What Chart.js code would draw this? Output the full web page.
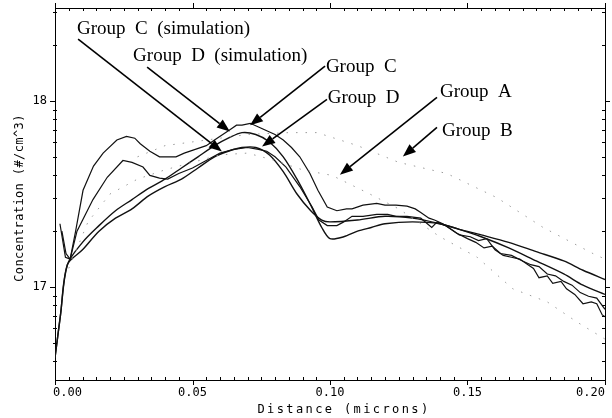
<!DOCTYPE html>
<html>
<head>
<meta charset="utf-8">
<script src="https://cdn.jsdelivr.net/npm/chart.js@4/dist/chart.umd.min.js"></script>
<style>
  html, body { margin: 0; padding: 0; background: #fff; }
  canvas { display: block; }
</style>
</head>
<body>
<canvas id="chart" width="612" height="418"></canvas>
<script>
// measured profiles (x in microns, y = log10 concentration)
const cMeasX = [0.0018,0.0038,0.0055,0.0075,0.0102,0.014,0.0175,0.0225,0.026,0.029,0.031,0.0345,0.038,0.041,0.044,0.047,0.051,0.055,0.058,0.061,0.064,0.066,0.068,0.071,0.074,0.077,0.080,0.083,0.086,0.089,0.0927,0.0956,0.099,0.1025,0.106,0.108,0.112,0.117,0.120,0.124,0.128,0.131,0.133,0.136,0.138,0.141,0.144,0.147,0.151,0.154,0.157,0.160,0.163,0.166,0.169,0.172,0.174,0.176,0.179,0.181,0.184,0.186,0.189,0.192,0.195,0.197,0.199,0.2];
const cMeasY = [17.34,17.16,17.15,17.30,17.52,17.65,17.72,17.79,17.81,17.80,17.77,17.73,17.70,17.70,17.70,17.72,17.74,17.76,17.79,17.82,17.85,17.87,17.87,17.88,17.86,17.84,17.82,17.79,17.75,17.70,17.61,17.52,17.43,17.41,17.42,17.42,17.44,17.45,17.44,17.44,17.435,17.42,17.40,17.37,17.36,17.34,17.31,17.28,17.27,17.25,17.26,17.20,17.17,17.16,17.15,17.12,17.10,17.05,17.06,17.02,17.03,16.99,16.96,16.91,16.92,16.91,16.85,16.84];

const dMeasX = [0.0025,0.004,0.0055,0.008,0.0138,0.019,0.0247,0.028,0.032,0.0345,0.038,0.041,0.045,0.050,0.055,0.060,0.065,0.070,0.074,0.077,0.080,0.084,0.089,0.0935,0.096,0.099,0.1025,0.105,0.108,0.112,0.117,0.121,0.124,0.128,0.133,0.137,0.139,0.142,0.146,0.150,0.153,0.156,0.159,0.162,0.166,0.170,0.173,0.176,0.179,0.182,0.185,0.188,0.191,0.194,0.197,0.2];
const dMeasY = [17.30,17.18,17.15,17.30,17.47,17.59,17.68,17.67,17.645,17.60,17.585,17.58,17.61,17.64,17.68,17.72,17.74,17.75,17.74,17.73,17.70,17.645,17.54,17.43,17.36,17.33,17.33,17.35,17.38,17.38,17.39,17.39,17.38,17.38,17.37,17.32,17.35,17.33,17.29,17.26,17.24,17.21,17.22,17.18,17.17,17.14,17.12,17.11,17.07,17.06,17.03,17.01,16.97,16.95,16.94,16.88];

// simulations
const cSimX = [0,0.002,0.0045,0.010,0.016,0.022,0.028,0.034,0.040,0.046,0.052,0.058,0.063,0.068,0.073,0.078,0.083,0.088,0.093,0.097,0.100,0.110,0.120,0.130,0.140,0.147,0.155,0.165,0.175,0.185,0.192,0.2];
const cSimY = [16.62,16.85,17.12,17.20,17.30,17.37,17.42,17.49,17.54,17.58,17.64,17.70,17.73,17.75,17.75,17.71,17.62,17.50,17.41,17.36,17.35,17.36,17.38,17.37,17.34,17.31,17.27,17.21,17.14,17.07,17.01,16.96];

const dSimX = [0,0.002,0.0045,0.010,0.016,0.022,0.028,0.034,0.040,0.046,0.052,0.058,0.063,0.068,0.073,0.078,0.083,0.088,0.093,0.097,0.100,0.105,0.110,0.115,0.120,0.130,0.140,0.147,0.155,0.165,0.175,0.185,0.192,0.2];
const dSimY = [16.62,16.85,17.12,17.24,17.33,17.41,17.47,17.53,17.58,17.64,17.70,17.76,17.80,17.83,17.82,17.78,17.70,17.58,17.44,17.32,17.26,17.27,17.30,17.32,17.34,17.35,17.34,17.31,17.28,17.24,17.19,17.14,17.09,17.04];

// faint dotted groups
const aX = [0.005,0.012,0.02,0.03,0.04,0.05,0.06,0.07,0.08,0.09,0.1007,0.1138,0.125,0.14,0.1535,0.1665,0.179,0.19,0.2];
const aY = [17.10,17.35,17.50,17.58,17.63,17.67,17.71,17.72,17.68,17.63,17.60,17.505,17.42,17.27,17.16,16.99,16.92,16.81,16.72];
const bX = [0.03,0.04,0.055,0.07,0.085,0.0953,0.11,0.125,0.1425,0.1607,0.1775,0.1956,0.2];
const bY = [17.70,17.76,17.79,17.82,17.83,17.83,17.76,17.67,17.61,17.48,17.32,17.18,17.15];

// axis ticks
const xMajor = [0, 0.05, 0.10, 0.15, 0.20];
const xLabels = ["0.00", "0.05", "0.10", "0.15", "0.20"];
const yMajor = [17, 18];

// annotations: label, text pos [x, y], arrow from [x, y] to [x, y]
const notes = [
  { text: "Group  C  (simulation)", at: [0.008, 18.36], from: [0.0084, 18.333], to: [0.0607, 17.728] },
  { text: "Group  D  (simulation)", at: [0.0284, 18.214], from: [0.0335, 18.182], to: [0.0636, 17.836] },
  { text: "Group  C", at: [0.0985, 18.155], from: [0.0982, 18.188], to: [0.0709, 17.869] },
  { text: "Group  D", at: [0.0992, 17.988], from: [0.0989, 18.009], to: [0.0753, 17.755] },
  { text: "Group  A", at: [0.14, 18.02], from: [0.1389, 18.02], to: [0.1036, 17.604] },
  { text: "Group  B", at: [0.1407, 17.81], from: [0.1389, 17.858], to: [0.1265, 17.701] }
];

function pts(xs, ys) {
  return xs.map((x, i) => ({ x: x, y: ys[i] }));
}

function yTicks() {
  const t = [];
  for (let d = 16; d <= 18; d++) {
    for (let k = 1; k <= 9; k++) {
      const v = d + Math.log10(k);
      if (v >= 16.5 && v <= 18.5) t.push(v);
    }
  }
  return t;
}

const solid = { borderColor: "#111", pointRadius: 0, fill: false };

const decor = {
  id: "decor",
  afterDraw(chart) {
    const ctx = chart.ctx;
    const xs = chart.scales.x, ys = chart.scales.y;
    const a = chart.chartArea;
    ctx.save();
    ctx.strokeStyle = "#000";
    ctx.lineWidth = 1;

    // tick marks on all four sides
    ctx.beginPath();
    for (let i = 0; i <= 40; i++) {
      const v = i * 0.005;
      const px = Math.round(xs.getPixelForValue(v)) + 0.5;
      const major = i % 10 === 0;
      if (major) {
        ctx.moveTo(px, a.bottom); ctx.lineTo(px, a.bottom + 5);
        ctx.moveTo(px, a.top); ctx.lineTo(px, a.top - 5);
      } else {
        ctx.moveTo(px, a.bottom); ctx.lineTo(px, a.bottom - 3);
        ctx.moveTo(px, a.top); ctx.lineTo(px, a.top + 3);
      }
    }
    yTicks().forEach(v => {
      const py = Math.round(ys.getPixelForValue(v)) + 0.5;
      const major = Math.abs(v - Math.round(v)) < 1e-6;
      if (major) {
        ctx.moveTo(a.left, py); ctx.lineTo(a.left - 5, py);
        ctx.moveTo(a.right, py); ctx.lineTo(a.right + 5, py);
      } else {
        ctx.moveTo(a.left - 2, py); ctx.lineTo(a.left + 2, py);
        ctx.moveTo(a.right - 3, py); ctx.lineTo(a.right + 1, py);
      }
    });
    ctx.stroke();

    // x tick labels: first flush left, last flush right
    ctx.fillStyle = "#000";
    ctx.font = "12px 'DejaVu Sans Mono', monospace";
    ctx.textBaseline = "top";
    xMajor.forEach((v, i) => {
      const px = xs.getPixelForValue(v);
      ctx.textAlign = i === 0 ? "left" : (i === xMajor.length - 1 ? "right" : "center");
      ctx.fillText(xLabels[i], i === 0 ? px - 2 : px, a.bottom + 7);
    });

    // arrows
    ctx.lineWidth = 1.6;
    notes.forEach(n => {
      const x0 = xs.getPixelForValue(n.from[0]), y0 = ys.getPixelForValue(n.from[1]);
      const x1 = xs.getPixelForValue(n.to[0]), y1 = ys.getPixelForValue(n.to[1]);
      const ang = Math.atan2(y1 - y0, x1 - x0);
      const len = 13, half = 5;
      const bx = x1 - len * Math.cos(ang), by = y1 - len * Math.sin(ang);
      ctx.beginPath();
      ctx.moveTo(x0, y0); ctx.lineTo(bx, by);
      ctx.stroke();
      ctx.beginPath();
      ctx.moveTo(x1, y1);
      ctx.lineTo(bx + half * Math.sin(ang), by - half * Math.cos(ang));
      ctx.lineTo(bx - half * Math.sin(ang), by + half * Math.cos(ang));
      ctx.closePath();
      ctx.fill();
    });

    // annotation labels
    ctx.font = "19px 'Liberation Serif', 'Times New Roman', serif";
    ctx.textBaseline = "alphabetic";
    ctx.textAlign = "left";
    notes.forEach(n => {
      ctx.fillText(n.text, xs.getPixelForValue(n.at[0]), ys.getPixelForValue(n.at[1]));
    });

    // axis titles
    ctx.font = "12px 'DejaVu Sans Mono', monospace";
    ctx.textAlign = "center";
    ctx.textBaseline = "alphabetic";
    ctx.letterSpacing = "2.4px";
    ctx.fillText("Distance (microns)", (a.left + a.right) / 2 + 14, 413);
    ctx.letterSpacing = "0.4px";
    ctx.translate(23, (a.top + a.bottom) / 2 + 4);
    ctx.rotate(-Math.PI / 2);
    ctx.fillText("Concentration (#/cm^3)", 0, 0);
    ctx.restore();
  }
};

function pin(size) {
  return function (scale) {
    if (scale.isHorizontal()) scale.height = size; else scale.width = size;
    scale.paddingLeft = 0; scale.paddingRight = 0;
    scale.paddingTop = 0; scale.paddingBottom = 0;
  };
}

const tickFont = { family: "'DejaVu Sans Mono', monospace", size: 12 };
const noGrid = { display: false, drawTicks: false, tickLength: 0 };

new Chart(document.getElementById("chart"), {
  type: "line",
  data: {
    datasets: [
      { label: "Group A", data: pts(aX, aY), borderColor: "#9a9a9a", borderWidth: 1, borderDash: [1.5, 8], pointRadius: 0, fill: false },
      { label: "Group B", data: pts(bX, bY), borderColor: "#9a9a9a", borderWidth: 1, borderDash: [1.5, 8], pointRadius: 0, fill: false },
      Object.assign({ label: "Group C (simulation)", data: pts(cSimX, cSimY), borderWidth: 1.4, tension: 0.3 }, solid),
      Object.assign({ label: "Group D (simulation)", data: pts(dSimX, dSimY), borderWidth: 1.4, tension: 0.3 }, solid),
      Object.assign({ label: "Group C", data: pts(cMeasX, cMeasY), borderWidth: 1.2, tension: 0 }, solid),
      Object.assign({ label: "Group D", data: pts(dMeasX, dMeasY), borderWidth: 1.2, tension: 0 }, solid)
    ]
  },
  options: {
    responsive: false,
    animation: false,
    devicePixelRatio: 1,
    layout: { padding: 0 },
    plugins: { legend: { display: false }, tooltip: { enabled: false } },
    scales: {
      x: {
        type: "linear", position: "bottom", min: 0, max: 0.2,
        afterBuildTicks: s => { s.ticks = xMajor.map(v => ({ value: v })); },
        afterFit: pin(38),
        grid: noGrid,
        border: { display: true, color: "#000", width: 1 },
        ticks: { display: false }
      },
      x2: {
        type: "linear", position: "top", min: 0, max: 0.2,
        afterFit: pin(8),
        grid: noGrid,
        border: { display: true, color: "#000", width: 1 },
        ticks: { display: false }
      },
      y: {
        type: "linear", position: "left", min: 16.5, max: 18.5,
        afterBuildTicks: s => { s.ticks = yMajor.map(v => ({ value: v })); },
        afterFit: pin(55),
        grid: noGrid,
        border: { display: true, color: "#000", width: 1 },
        ticks: { color: "#000", font: tickFont, padding: 8, autoSkip: false,
                 callback: v => String(v) }
      },
      y2: {
        type: "linear", position: "right", min: 16.5, max: 18.5,
        afterFit: pin(7),
        grid: noGrid,
        border: { display: true, color: "#000", width: 1 },
        ticks: { display: false }
      }
    }
  },
  plugins: [decor]
});
</script>
</body>
</html>
